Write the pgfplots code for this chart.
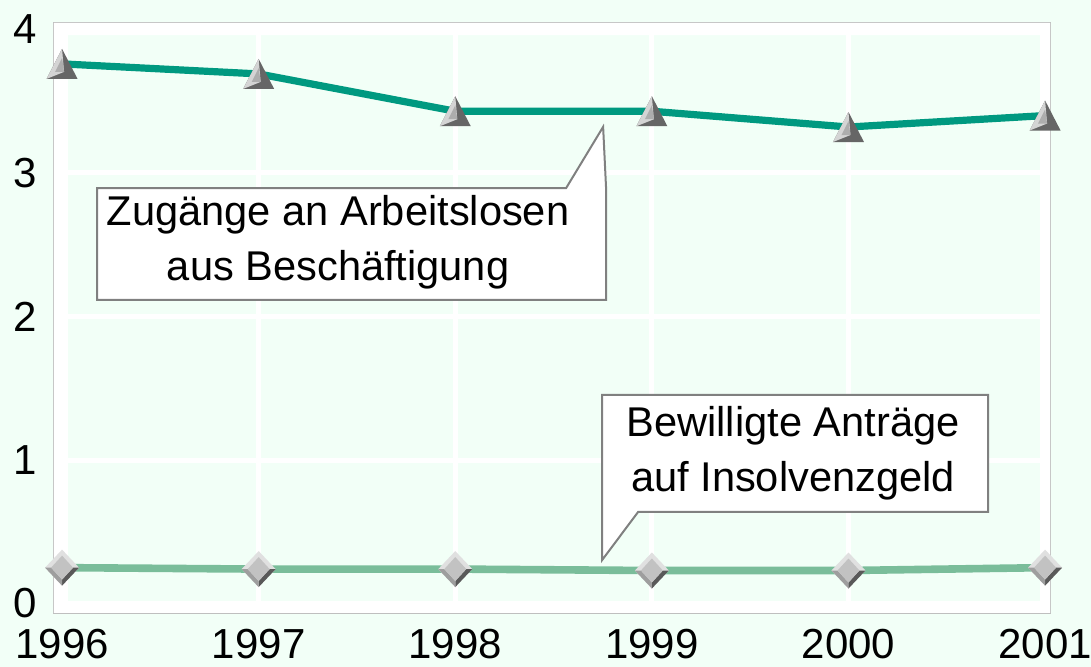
\documentclass[border=0pt]{standalone}
\usepackage{pgfplots}
\pgfplotsset{compat=1.18}
\usepackage{fontspec}
\setmainfont{Liberation Sans}
\definecolor{bgmint}{RGB}{242,255,247}
\definecolor{topline}{RGB}{0,153,128}
\definecolor{botline}{RGB}{122,189,154}
\definecolor{calloutborder}{RGB}{128,128,128}

\pgfdeclareplotmark{tri3d}{%
  \pgfsetfillcolor{black!60}%
  \pgfpathmoveto{\pgfpoint{0pt}{7.5pt}}%
  \pgfpathlineto{\pgfpoint{-7.75pt}{-7.5pt}}%
  \pgfpathlineto{\pgfpoint{7.75pt}{-7.5pt}}%
  \pgfpathclose\pgfusepath{fill}%
  \pgfsetfillcolor{black!17}%
  \pgfpathmoveto{\pgfpoint{0pt}{7.5pt}}%
  \pgfpathlineto{\pgfpoint{-7.75pt}{-7.5pt}}%
  \pgfpathlineto{\pgfpoint{1pt}{-4pt}}%
  \pgfpathclose\pgfusepath{fill}%
  \pgfsetfillcolor{black!32}%
  \pgfpathmoveto{\pgfpoint{0pt}{3pt}}%
  \pgfpathlineto{\pgfpoint{-3.5pt}{-4pt}}%
  \pgfpathlineto{\pgfpoint{1pt}{-4pt}}%
  \pgfpathclose\pgfusepath{fill}%
}
\pgfdeclareplotmark{dia3d}{%
  \pgfsetfillcolor{black!12}%
  \pgfpathmoveto{\pgfpoint{0pt}{9pt}}%
  \pgfpathlineto{\pgfpoint{8.5pt}{0pt}}%
  \pgfpathlineto{\pgfpoint{0pt}{-9pt}}%
  \pgfpathlineto{\pgfpoint{-8.5pt}{0pt}}%
  \pgfpathclose\pgfusepath{fill}%
  \pgfsetfillcolor{black!65}%
  \pgfpathmoveto{\pgfpoint{8.5pt}{0pt}}%
  \pgfpathlineto{\pgfpoint{0pt}{-9pt}}%
  \pgfpathlineto{\pgfpoint{0pt}{-6pt}}%
  \pgfpathlineto{\pgfpoint{5.5pt}{0pt}}%
  \pgfpathclose\pgfusepath{fill}%
  \pgfsetfillcolor{black!38}%
  \pgfpathmoveto{\pgfpoint{-8.5pt}{0pt}}%
  \pgfpathlineto{\pgfpoint{0pt}{-9pt}}%
  \pgfpathlineto{\pgfpoint{0pt}{-6pt}}%
  \pgfpathlineto{\pgfpoint{-5.5pt}{0pt}}%
  \pgfpathclose\pgfusepath{fill}%
  \pgfsetfillcolor{black!24}%
  \pgfpathmoveto{\pgfpoint{0pt}{6pt}}%
  \pgfpathlineto{\pgfpoint{5.5pt}{0pt}}%
  \pgfpathlineto{\pgfpoint{0pt}{-6pt}}%
  \pgfpathlineto{\pgfpoint{-5.5pt}{0pt}}%
  \pgfpathclose\pgfusepath{fill}%
}

\pgfplotstableread{
year zugaenge
1996 3.76
1997 3.69
1998 3.43
1999 3.43
2000 3.32
2001 3.40
}\zugtable
\pgfplotstableread{
year insolvenz
1996 0.25
1997 0.24
1998 0.24
1999 0.23
2000 0.23
2001 0.25
}\instable

\begin{document}
\begin{tikzpicture}[x=1pt,y=1pt]
\fill[bgmint] (0,0) rectangle (545.5,333.5);
\useasboundingbox (0,0) rectangle (545.5,333.5);
\begin{axis}[
  at={(27pt,27pt)}, anchor=south west,
  scale only axis, width=498pt, height=295pt,
  xmin=1995.959, xmax=2001.025, ymin=-0.066, ymax=4.045,
  xtick={1996,1997,1998,1999,2000,2001},
  xticklabels={1996,1997,1998,1999,2000,2001},
  ytick={0,1,2,3,4}, yticklabels={0,1,2,3,4},
  major tick length=0pt,
  grid=major, grid style={white, line width=2.5pt},
  axis line style={draw=black!25, line width=0.75pt},
  axis background/.style={fill=bgmint},
  tick label style={font=\fontsize{21}{23}\selectfont, text=black},
  yticklabel style={xshift=-5pt},
  xticklabel style={yshift=-4.5pt},
  clip=false,
]
\fill[white, even odd rule]
  (axis cs:1995.959,-0.066) rectangle (axis cs:2001.025,4.045)
  (axis cs:1996.03,0.0) rectangle (axis cs:2000.975,3.96);
\addplot[botline, line width=3.8pt, mark=dia3d] table[x=year, y=insolvenz] {\instable};
\addplot[topline, line width=3.6pt, mark=tri3d] table[x=year, y=zugaenge] {\zugtable};
% callout 1
\draw[calloutborder, line width=1pt, fill=white]
  (axis cs:1996.178,2.115) -- (axis cs:1996.178,2.895) -- (axis cs:1998.564,2.895)
  -- (axis cs:1998.752,3.321) -- (axis cs:1998.767,2.895) -- (axis cs:1998.767,2.115) -- cycle;
\node[align=center, font=\fontsize{20.8}{27.5}\selectfont] at (axis cs:1997.404,2.52)
  {Zugänge an Arbeitslosen\\aus Beschäftigung};
% callout 2
\draw[calloutborder, line width=1pt, fill=white]
  (axis cs:1998.747,0.303) -- (axis cs:1998.747,1.453) -- (axis cs:2000.710,1.453)
  -- (axis cs:2000.710,0.638) -- (axis cs:1998.930,0.638) -- cycle;
\node[align=center, font=\fontsize{20.8}{27.5}\selectfont] at (axis cs:1999.718,1.05)
  {Bewilligte Anträge\\auf Insolvenzgeld};
\end{axis}
\end{tikzpicture}
\end{document}
